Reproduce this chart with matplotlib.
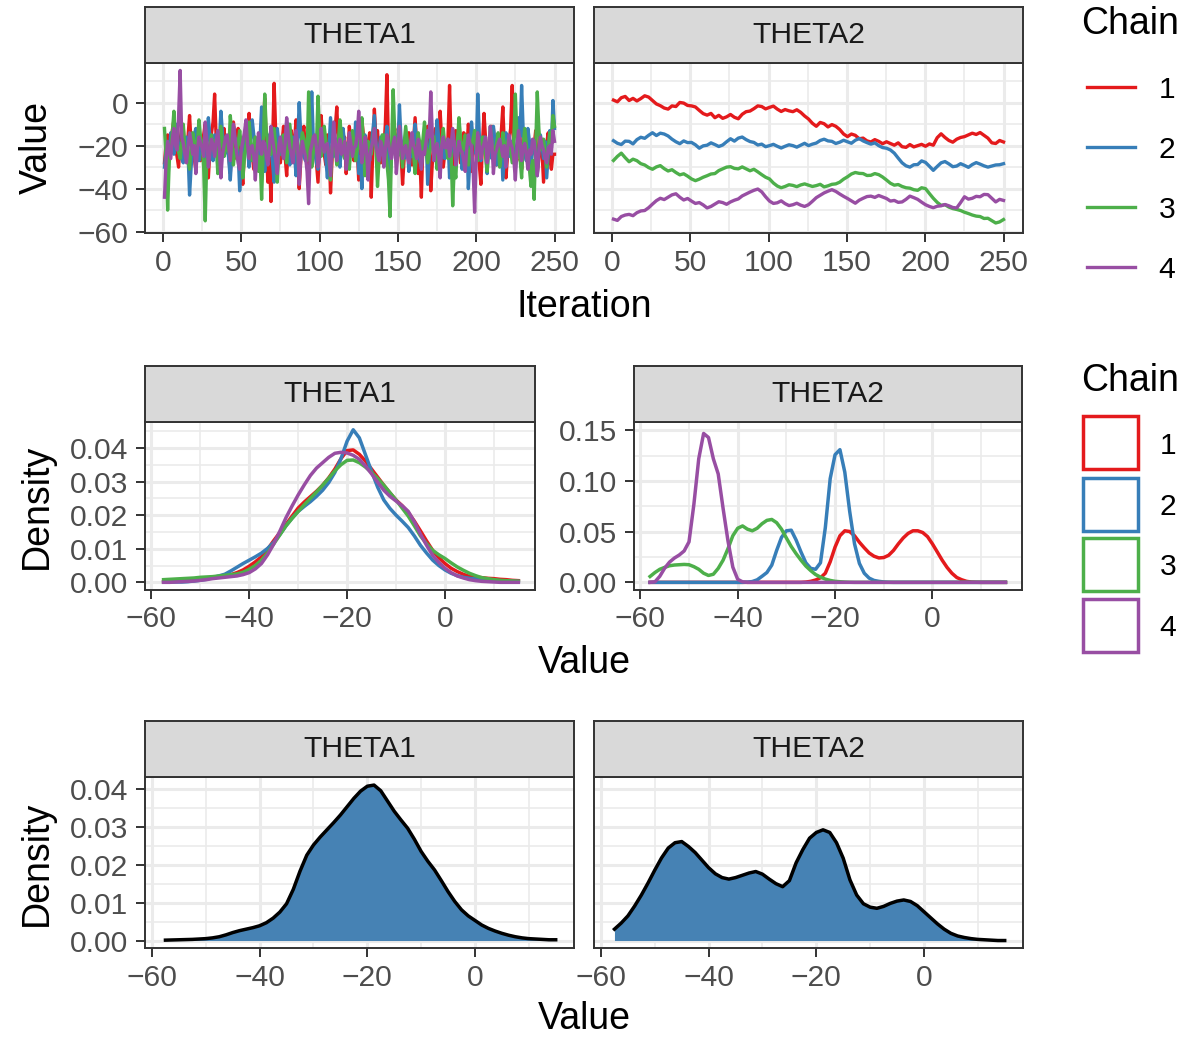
import numpy as np
import matplotlib.pyplot as plt
from matplotlib.lines import Line2D
from matplotlib.patches import Rectangle
from matplotlib.ticker import FormatStrFormatter, MultipleLocator

plt.rcParams['font.family'] = ['Liberation Sans', 'DejaVu Sans']

W, H = 1201, 1037
chains = ['1', '2', '3', '4']
chain_colors = ['#E41A1C', '#377EB8', '#4DAF4A', '#984EA3']
params = ['THETA1', 'THETA2']

# ---- trace data, THETA1 (iterations 1..250) ----
trace1 = {
    '1': [-28, -19, -15, -24, -22, -13, -8, -21, -25, -30, -18, -11, -12, -23, -27, -16, -6, -19, -20, -26,
          -31, -20, -17, -27, -24, -15, -10, -19, -35, -22, -14, -9, 4, -17, -22, -28, -29, -18, -12, -21,
          -19, -25, -33, -20, -9, -16, -26, -12, -21, -29, -38, -23, -14, -18, -5, -20, -24, -31, -30, -17,
          -16, -24, -10, -15, 2, -20, -37, -26, -46, -18, 9, -14, -18, -23, -28, -19, -11, -25, -34, -21,
          -20, -13, -25, -18, -8, -22, -40, -27, -15, -11, -23, -19, -31, -24, -13, -20, -19, -28, -37, -22,
          -6, -17, -24, -29, -15, -20, -42, -26, -17, -12, -2, -19, -27, -23, -21, -16, -33, -25, -11, -18,
          -23, -27, -16, -21, -36, -24, -8, -15, -26, -30, -19, -14, -44, -22, -3, -17, -13, -25, -28, -20,
          -22, -10, 13, -21, -31, -24, -17, -12, -25, -19, -9, -23, -38, -26, -22, -15, -14, -27, -29, -18,
          -7, -20, -33, -25, -44, -19, -24, -13, -11, -22, -41, -28, -16, -12, -21, -26, -4, -18, -30, -23,
          -24, -16, 8, -20, -36, -25, -13, -21, -19, -28, -27, -14, -15, -22, -10, -18, -32, -24, -20, -15,
          -23, -29, -38, -19, -5, -17, -26, -22, -17, -11, -12, -24, -29, -18, -21, -14, -2, -20, -35, -25,
          -18, -12, 8, -19, -25, -27, -9, -16, -31, -21, -22, -14, -14, -25, -28, -19, -20, -13, -33, -26,
          -16, -22, -37, -28, -19, -14, -26, -31, -24, -24],
    '2': [-30, -22, -38, -25, -14, -20, -24, -17, -10, -21, -19, -26, -28, -18, -16, -23, -43, -30, -21, -15,
          -12, -19, -27, -21, -18, -25, -33, -20, -7, -16, -22, -27, -15, -20, -29, -18, -4, -14, -25, -22,
          -20, -26, -36, -24, -11, -18, -17, -23, -41, -27, -23, -16, -13, -21, -30, -19, -8, -15, -19, -26,
          -26, -17, -2, -18, -32, -22, -15, -20, -21, -28, -37, -24, -12, -19, -24, -16, -18, -23, -9, -20,
          -29, -21, -16, -24, -34, -18, 0, -15, -20, -25, -27, -19, -11, -14, 5, -17, -23, -28, -31, -22,
          -14, -20, -19, -26, -35, -21, -7, -16, -25, -18, -17, -24, -30, -20, -12, -19, -22, -26, -28, -17,
          -18, -23, -9, -17, -33, -25, -40, -21, -15, -19, -24, -27, -20, -13, -6, -18, -29, -22, -16, -21,
          -23, -18, -11, -20, -36, -24, -19, -15, -27, -21, -1, -17, -21, -26, -14, -20, -32, -23, -25, -18,
          -10, -19, -20, -27, -30, -22, -17, -14, -38, -25, -12, -18, -24, -20, -8, -16, -28, -23, -19, -26,
          -22, -17, -35, -24, -15, -21, -26, -18, -13, -20, -31, -25, -21, -16, -40, -27, -9, -17, -18, -24,
          4, -15, -27, -21, -16, -23, -33, -19, -20, -26, -11, -18, -29, -22, -23, -17, -36, -25, -14, -20,
          -25, -19, -18, -24, -31, -20, -7, -16, 8, -13, -22, -27, -12, -18, -30, -21, -19, -25, -34, -22,
          -15, -20, -26, -18, -35, -24, -13, -21, 1, -12],
    '3': [-12, -25, -50, -28, -20, -14, -4, -18, -17, -23, -26, -19, -10, -21, -22, -27, -31, -20, -14, -18,
          -24, -19, -8, -16, -19, -30, -55, -26, -28, -20, -15, -22, -21, -17, -33, -24, -11, -18, -25, -21,
          -18, -23, -6, -15, -29, -22, -23, -19, -13, -20, -35, -26, -20, -14, -9, -17, -27, -21, -16, -24,
          -32, -25, -45, -22, 4, -13, -19, -24, -24, -18, -12, -20, -37, -23, -21, -16, -15, -22, -28, -19,
          -10, -18, -26, -21, -18, -24, -33, -20, -14, -17, -22, -27, 5, -12, -30, -23, -17, -20, 3, -14,
          -25, -19, -11, -18, -20, -27, -36, -22, -16, -21, -29, -18, -8, -15, -23, -26, -19, -22, -31, -20,
          -13, -19, -27, -22, -21, -16, -7, -18, -34, -25, -18, -23, -24, -17, -12, -21, -39, -26, -20, -15,
          -15, -21, -28, -36, -53, -20, 6, -14, -22, -25, -17, -21, -30, -19, -11, -18, -25, -22, -19, -24,
          -33, -21, -14, -19, -23, -17, -9, -20, -28, -24, -20, -15, -16, -22, -31, -25, -26, -18, -12, -20,
          -21, -26, -18, -24, -48, -30, -35, -19, -7, -16, -24, -21, -15, -20, -29, -23, -20, -17, -13, -22,
          -27, -19, -22, -16, -17, -25, -32, -21, -11, -18, -25, -22, -19, -14, -30, -24, -14, -20, -23, -18,
          -16, -22, -28, -17, 4, -15, -21, -26, -35, -20, -12, -19, -26, -31, -39, -27, -45, -20, 5, -12,
          -22, -18, -17, -24, -30, -21, -14, -19, -6, -11],
    '4': [-44, -27, -18, -22, -26, -17, -12, -20, -22, -6, 15, -16, -19, -24, -28, -21, -14, -18, -24, -20,
          -33, -22, -16, -19, -21, -25, -9, -17, -30, -23, -17, -20, -25, -18, -13, -21, -35, -24, -20, -16,
          -15, -21, -27, -19, -10, -16, -23, -28, -31, -22, -18, -14, -8, -19, -26, -21, -20, -25, -36, -23,
          -14, -20, -24, -18, -19, -25, -29, -21, -11, -17, -22, -27, -33, -20, -16, -23, -26, -19, -7, -15,
          -21, -24, -28, -19, -13, -20, -38, -26, -18, -22, -25, -32, -47, -23, -20, -16, -15, -21, -30, -24,
          -12, -18, -23, -20, -19, -26, -34, -22, -9, -17, -27, -21, -17, -24, -22, -18, -31, -25, -14, -19,
          -25, -21, -20, -15, -4, -17, -28, -23, -16, -22, -36, -25, -21, -18, -12, -20, -24, -27, -18, -21,
          -30, -22, -15, -19, -23, -26, -19, -16, -33, -24, -11, -18, -26, -21, -20, -25, -28, -19, -14, -20,
          -22, -26, -17, -21, -31, -23, -24, -18, -13, -16, 5, -15, -27, -22, -19, -24, -35, -20, -16, -21,
          -21, -17, -25, -20, -12, -19, -29, -24, -18, -22, -23, -27, -32, -21, -15, -19, -20, -30, -51, -26,
          -14, -20, -26, -21, -19, -16, -28, -23, -11, -18, -33, -24, -22, -19, -17, -21, -25, -20, -30, -23,
          -15, -19, -21, -26, -36, -22, -13, -18, -27, -21, -19, -24, -31, -22, -24, -17, -18, -25, -34, -23,
          -16, -20, -22, -26, -28, -21, -20, -24, -13, -18],
}

# ---- trace data, THETA2 (101 points over iterations 1..250) ----
trace2 = {
    '1': [1.2, 0.4, 2.3, 2.9, 1.0, 2.0, 0.8, 1.9, 3.2, 2.6,
          1.0, -0.6, -1.4, -2.5, -3.0, -1.5, -1.8, 0.1, -0.2, -1.3,
          -1.5, -2.0, -3.6, -5.1, -5.8, -5.0, -7.0, -5.9, -7.3, -6.6,
          -5.5, -6.8, -7.5, -5.4, -4.2, -3.9, -2.8, -1.5, -1.8, -2.9,
          -2.2, -1.6, -3.0, -4.1, -3.2, -3.8, -4.2, -3.3, -4.5, -6.2,
          -7.6, -9.6, -11.0, -9.2, -9.8, -11.3, -10.2, -11.0, -12.5, -14.6,
          -15.8, -14.6, -15.2, -16.8, -16.5, -17.8, -18.3, -17.2, -18.0, -19.1,
          -18.2, -19.0, -19.8, -18.7, -20.5, -20.8, -19.5, -20.6, -20.0, -19.4,
          -20.3, -19.2, -19.8, -16.3, -14.5, -16.2, -17.6, -18.4, -17.0, -16.2,
          -15.8, -15.0, -14.2, -14.8, -13.9, -15.2, -16.5, -18.7, -19.0, -17.6,
          -18.3],
    '2': [-17.7, -18.9, -19.5, -17.9, -18.0, -19.2, -17.2, -16.1, -16.6, -15.2,
          -14.0, -15.3, -14.2, -14.6, -15.5, -17.0, -18.2, -19.1, -17.8, -18.6,
          -18.5, -19.6, -21.2, -20.1, -19.8, -18.7, -19.5, -20.4, -19.7, -18.2,
          -16.8, -17.9, -16.5, -16.0, -17.2, -18.1, -18.5, -19.7, -19.3, -20.5,
          -20.0, -19.4, -20.3, -21.1, -20.3, -19.6, -20.0, -20.7, -19.8, -18.9,
          -20.0, -19.3, -18.8, -17.6, -17.0, -17.8, -18.0, -19.0, -18.4, -17.5,
          -18.2, -18.9, -17.5, -16.7, -17.8, -18.6, -19.3, -18.7, -20.0, -20.9,
          -21.2, -22.0, -23.5, -25.8, -28.0, -29.4, -30.0, -28.9, -28.8, -27.1,
          -27.8, -29.6, -31.5, -29.7, -28.0, -27.4, -28.5, -29.8, -29.5, -28.4,
          -29.2, -30.1, -28.8, -27.9, -28.6, -29.4, -30.0, -29.5, -29.0, -28.9,
          -28.4],
    '3': [-26.9, -25.0, -23.5, -25.6, -27.5, -26.3, -27.0, -28.4, -29.0, -30.2,
          -31.0, -29.9, -29.3, -30.7, -31.8, -31.2, -32.5, -33.6, -33.1, -34.2,
          -35.5, -36.3, -35.6, -34.7, -34.0, -33.2, -33.0, -31.6, -30.8, -30.0,
          -29.8, -30.6, -30.8, -29.9, -30.8, -31.7, -31.0, -32.2, -33.5, -34.7,
          -35.5, -37.4, -38.8, -39.6, -39.0, -38.2, -38.5, -39.1, -38.3, -37.8,
          -38.4, -39.0, -38.6, -38.0, -39.2, -38.7, -38.0, -37.8, -37.0, -35.6,
          -34.5, -33.2, -32.5, -32.9, -33.0, -33.9, -33.8, -33.0, -33.5, -34.6,
          -36.0, -37.5, -38.4, -38.1, -39.0, -39.6, -39.8, -40.5, -40.8, -39.6,
          -40.0, -42.3, -44.5, -46.4, -47.8, -47.5, -48.6, -49.3, -49.7, -50.2,
          -51.0, -51.6, -52.3, -52.8, -53.0, -53.9, -53.8, -54.9, -56.0, -55.5,
          -54.4],
    '4': [-54.2, -54.8, -53.0, -52.3, -52.0, -52.6, -51.2, -50.4, -50.2, -48.9,
          -47.2, -45.6, -44.5, -45.1, -44.0, -42.9, -42.4, -44.0, -45.3, -44.6,
          -45.8, -46.9, -46.5, -47.6, -49.0, -48.3, -47.2, -46.1, -46.5, -47.3,
          -46.2, -45.4, -44.8, -43.4, -42.5, -41.6, -40.8, -40.2, -41.5, -43.8,
          -45.8, -46.9, -46.6, -45.7, -47.0, -47.9, -47.5, -46.8, -47.7, -48.3,
          -47.5, -45.9, -44.2, -43.1, -42.0, -41.2, -40.5, -41.3, -42.5, -43.6,
          -44.6, -45.7, -46.8, -45.4, -44.5, -43.7, -43.5, -44.1, -43.2, -43.9,
          -44.6, -45.8, -45.5, -46.4, -46.2, -45.0, -43.5, -44.2, -45.0, -46.3,
          -47.5, -48.3, -48.9, -48.2, -48.0, -47.4, -48.0, -48.8, -49.0, -46.5,
          -43.8, -44.9, -44.5, -43.6, -43.8, -42.7, -42.8, -44.5, -46.2, -45.0,
          -45.5],
}

# ---- density by chain, THETA1 (x = -57.5 .. 15 in steps of 1.25) ----
dens_x1 = np.arange(-57.5, 15.01, 1.25)
dens1 = {
    '1': [0.0002, 0.00025, 0.0003, 0.0004, 0.0005, 0.0007, 0.0009, 0.0011, 0.0014, 0.0016,
          0.0019, 0.0023, 0.0029, 0.0037, 0.0048, 0.0061, 0.0076, 0.0098, 0.0124, 0.0148,
          0.0172, 0.0197, 0.0221, 0.0239, 0.0255, 0.0271, 0.0289, 0.0311, 0.0337, 0.0368,
          0.0392, 0.0394, 0.0381, 0.0361, 0.0337, 0.0313, 0.0289, 0.0266, 0.0245, 0.0228,
          0.0208, 0.0182, 0.0153, 0.0123, 0.0095, 0.0073, 0.0056, 0.0042, 0.0032, 0.0024,
          0.0018, 0.0015, 0.0014, 0.0012, 0.0011, 0.0009, 0.0008, 0.0006, 0.0005],
    '2': [0.0001, 0.0001, 0.0001, 0.0001, 0.0002, 0.0004, 0.0006, 0.0009, 0.0014, 0.0019,
          0.0024, 0.0034, 0.0045, 0.0056, 0.0066, 0.0076, 0.0087, 0.0101, 0.0119, 0.0142,
          0.0168, 0.0191, 0.0211, 0.0226, 0.0240, 0.0256, 0.0274, 0.0297, 0.0327, 0.0368,
          0.0420, 0.0454, 0.0430, 0.0380, 0.0330, 0.0283, 0.0245, 0.0220, 0.0200, 0.0182,
          0.0163, 0.0138, 0.0110, 0.0087, 0.0066, 0.0050, 0.0037, 0.0027, 0.0020, 0.0015,
          0.0012, 0.0010, 0.0008, 0.0007, 0.0006, 0.0005, 0.0004, 0.0003, 0.0003],
    '3': [0.0008, 0.0009, 0.0010, 0.0011, 0.0012, 0.0013, 0.0015, 0.0016, 0.0017, 0.0019,
          0.0021, 0.0023, 0.0025, 0.0030, 0.0039, 0.0050, 0.0066, 0.0088, 0.0114, 0.0141,
          0.0168, 0.0190, 0.0211, 0.0231, 0.0250, 0.0269, 0.0289, 0.0310, 0.0332, 0.0350,
          0.0363, 0.0364, 0.0356, 0.0343, 0.0327, 0.0309, 0.0289, 0.0267, 0.0245, 0.0221,
          0.0197, 0.0168, 0.0138, 0.0115, 0.0095, 0.0082, 0.0071, 0.0058, 0.0046, 0.0036,
          0.0027, 0.0020, 0.0014, 0.0011, 0.0008, 0.0006, 0.0005, 0.0004, 0.0003],
    '4': [0.0000, 0.0000, 0.0001, 0.0002, 0.0003, 0.0004, 0.0006, 0.0008, 0.0011, 0.0013,
          0.0015, 0.0017, 0.0019, 0.0023, 0.0029, 0.0040, 0.0056, 0.0082, 0.0114, 0.0152,
          0.0192, 0.0227, 0.0260, 0.0290, 0.0318, 0.0340, 0.0356, 0.0372, 0.0384, 0.0387,
          0.0385, 0.0378, 0.0366, 0.0346, 0.0323, 0.0298, 0.0274, 0.0256, 0.0242, 0.0228,
          0.0211, 0.0180, 0.0143, 0.0110, 0.0080, 0.0059, 0.0042, 0.0029, 0.0019, 0.0013,
          0.0008, 0.0005, 0.0003, 0.0002, 0.0001, 0.0000, 0.0000, 0.0000, 0.0000],
}

# ---- density by chain, THETA2 (x = -58 .. 15) ----
dens_x2 = list(range(-58, 16))
dens2 = {
    '1': [0, 0, 0, 0, 0, 0, 0, 0, 0, 0, 0, 0, 0, 0, 0, 0, 0, 0, 0, 0,
          0, 0, 0, 0, 0, 0, 0, 0, 0, 0, 0, 0,
          0.0003, 0.0010, 0.0023, 0.0045, 0.0090, 0.0203, 0.0348, 0.0460, 0.0509, 0.0502,
          0.0460, 0.0396, 0.0341, 0.0290, 0.0258, 0.0241, 0.0245, 0.0267, 0.0315, 0.0380,
          0.0438, 0.0483, 0.0509, 0.0509, 0.0492, 0.0451, 0.0380, 0.0300, 0.0219, 0.0148,
          0.0090, 0.0048, 0.0026, 0.0010, 0.0003, 0.0001,
          0, 0, 0, 0, 0, 0],
    '2': [0, 0, 0, 0, 0, 0, 0, 0, 0, 0, 0, 0, 0, 0, 0, 0, 0, 0, 0, 0,
          0.0002, 0.0008, 0.0025, 0.0060, 0.0097, 0.0170, 0.0315, 0.0444, 0.0509, 0.0515,
          0.0418, 0.0300, 0.0193, 0.0138, 0.0129, 0.0193, 0.0540, 0.1024, 0.1260, 0.1310,
          0.1088, 0.0702, 0.0380, 0.0187, 0.0090, 0.0042, 0.0019, 0.0010, 0.0004, 0.0001,
          0, 0, 0, 0, 0, 0, 0, 0, 0, 0, 0, 0, 0, 0, 0, 0, 0, 0, 0, 0, 0, 0, 0, 0],
    '3': [0.0058, 0.0097, 0.0129, 0.0148, 0.0164, 0.0171, 0.0174, 0.0177, 0.0174, 0.0155,
          0.0129, 0.0090, 0.0068, 0.0080, 0.0138, 0.0219, 0.0332, 0.0460, 0.0534, 0.0557,
          0.0525, 0.0509, 0.0534, 0.0579, 0.0612, 0.0621, 0.0589, 0.0525, 0.0438, 0.0354,
          0.0283, 0.0219, 0.0161, 0.0116, 0.0077, 0.0052, 0.0032, 0.0019, 0.0010, 0.0006,
          0.0003, 0.0001,
          0, 0, 0, 0, 0, 0, 0, 0, 0, 0, 0, 0, 0, 0, 0, 0,
          0, 0, 0, 0, 0, 0, 0, 0, 0, 0, 0, 0, 0, 0, 0, 0],
    '4': [0, 0.0005, 0.0060, 0.0140, 0.0200, 0.0240, 0.0270, 0.0310, 0.0400, 0.0770,
          0.1220, 0.1470, 0.1430, 0.1220, 0.1070, 0.0730, 0.0410, 0.0150, 0.0030, 0.0005,
          0, 0, 0, 0, 0, 0, 0, 0, 0, 0, 0, 0, 0, 0, 0, 0, 0, 0, 0, 0,
          0, 0, 0, 0, 0, 0, 0, 0, 0, 0, 0, 0, 0, 0, 0, 0, 0, 0, 0, 0,
          0, 0, 0, 0, 0, 0, 0, 0, 0, 0, 0, 0, 0, 0],
}

# ---- pooled density (x = -57.5 .. 15 in steps of 1.25) ----
pool_x = np.arange(-57.5, 15.01, 1.25)
pool = {
    'THETA1': [0.0001, 0.00015, 0.0002, 0.00025, 0.0003, 0.0004, 0.0005, 0.0007, 0.0010, 0.0015,
               0.0021, 0.0026, 0.0030, 0.0034, 0.0039, 0.0047, 0.0059, 0.0075, 0.0097, 0.0135,
               0.0183, 0.0225, 0.0252, 0.0273, 0.0292, 0.0311, 0.0331, 0.0353, 0.0375, 0.0394,
               0.0407, 0.0410, 0.0395, 0.0368, 0.0341, 0.0318, 0.0296, 0.0267, 0.0235, 0.0209,
               0.0186, 0.0158, 0.0129, 0.0103, 0.0081, 0.0065, 0.0053, 0.0041, 0.0032, 0.0025,
               0.0019, 0.0014, 0.0010, 0.0007, 0.0005, 0.0004, 0.0003, 0.0002, 0.0002],
    'THETA2': [0.0030, 0.0046, 0.0065, 0.0091, 0.0120, 0.0152, 0.0186, 0.0218, 0.0244, 0.0258,
               0.0261, 0.0248, 0.0232, 0.0212, 0.0192, 0.0176, 0.0166, 0.0162, 0.0166, 0.0172,
               0.0178, 0.0182, 0.0175, 0.0162, 0.0150, 0.0142, 0.0158, 0.0205, 0.0240, 0.0270,
               0.0285, 0.0292, 0.0285, 0.0258, 0.0217, 0.0160, 0.0120, 0.0097, 0.0088, 0.0085,
               0.0090, 0.0098, 0.0104, 0.0107, 0.0103, 0.0092, 0.0076, 0.0060, 0.0044, 0.0030,
               0.0019, 0.0012, 0.0008, 0.0005, 0.0003, 0.0002, 0.0001, 0.0000, 0.0000],
}

# ---- figure ----
fig = plt.figure(figsize=(W / 100, H / 100), dpi=100)
STRIP_H = 56
GRID = '#EBEBEB'
DARK = '#333333'
LW_TRACE = 2.4
LW_DENS = 2.5


def rect(x0, y0, x1, y1):
    return [x0 / W, 1 - y1 / H, (x1 - x0) / W, (y1 - y0) / H]


def make_panel(box, label, xlim, ylim, xstep, ystep, show_y, yfmt=None):
    x0, y0, x1, y1 = box
    ax = fig.add_axes(rect(x0, y0, x1, y1))
    sax = fig.add_axes(rect(x0, y0 - STRIP_H, x1, y0))
    sax.set_facecolor('#D9D9D9')
    sax.set_xticks([])
    sax.set_yticks([])
    for s in sax.spines.values():
        s.set_color(DARK)
        s.set_linewidth(1.4)
    sax.text(0.5, 0.5, label, transform=sax.transAxes, ha='center', va='center',
             fontsize=21.6, color='#1A1A1A')

    ax.set_xlim(*xlim)
    ax.set_ylim(*ylim)
    ax.xaxis.set_major_locator(MultipleLocator(xstep))
    ax.xaxis.set_minor_locator(MultipleLocator(xstep / 2))
    ax.yaxis.set_major_locator(MultipleLocator(ystep))
    ax.yaxis.set_minor_locator(MultipleLocator(ystep / 2))
    ax.grid(which='major', color=GRID, lw=2.2)
    ax.grid(which='minor', color=GRID, lw=1.2)
    ax.set_axisbelow(True)
    for s in ax.spines.values():
        s.set_color(DARK)
        s.set_linewidth(1.4)
    ax.tick_params(which='minor', length=0)
    ax.tick_params(which='major', length=6.5, width=1.4, color=DARK,
                   labelsize=21.6, labelcolor='#4D4D4D')
    ax.tick_params(axis='x', pad=4.5)
    ax.tick_params(axis='y', pad=5.5)
    if yfmt:
        ax.yaxis.set_major_formatter(FormatStrFormatter(yfmt))
    if not show_y:
        ax.tick_params(axis='y', which='both', left=False, labelleft=False)
    return ax


# row 1: traces
r1 = [(145, 62.7, 574, 233.3), (594, 62.7, 1023, 233.3)]
ylim1 = (-60.8, 18.6)
ax = make_panel(r1[0], 'THETA1', (-11.45, 262.45), ylim1, 50, 20, True)
for c, col in zip(chains, chain_colors):
    vals = trace1[c]
    ax.plot(np.linspace(1, 250, len(vals)), vals, color=col, lw=LW_TRACE)
ax = make_panel(r1[1], 'THETA2', (-11.45, 262.45), ylim1, 50, 20, False)
for c, col in zip(chains, chain_colors):
    vals = trace2[c]
    ax.plot(np.linspace(1, 250, len(vals)), vals, color=col, lw=LW_TRACE)

# row 2: density by chain
xl = (-61.3, 18.4)
ax = make_panel((145, 421.7, 535, 590), 'THETA1', xl, (-0.00228, 0.0478), 20, 0.01, True, '%.2f')
for c, col in zip(chains, chain_colors):
    ax.plot(dens_x1, dens1[c], color=col, lw=LW_DENS)
ax = make_panel((634, 421.7, 1022, 590), 'THETA2', xl, (-0.00755, 0.1586), 20, 0.05, True, '%.2f')
for c, col in zip(chains, chain_colors):
    ax.plot(dens_x2, dens2[c], color=col, lw=LW_DENS)

# row 3: pooled density
r3 = [(145, 777.3, 574, 948.3), (594, 777.3, 1023, 948.3)]
for i, p in enumerate(params):
    ax = make_panel(r3[i], p, xl, (-0.00205, 0.04305), 20, 0.01, i == 0, '%.2f')
    ax.fill_between(pool_x, 0, pool[p], color='#4682B4', lw=0)
    ax.plot(pool_x, pool[p], color='black', lw=LW_DENS)


# ---- axis titles ----
def ftext(x, y, s, **kw):
    fig.text(x / W, 1 - y / H, s, fontsize=27, color='black', **kw)


ftext(584, 317, 'Iteration', ha='center', va='baseline')
ftext(584, 673, 'Value', ha='center', va='baseline')
ftext(584, 1029, 'Value', ha='center', va='baseline')
ftext(47, 148, 'Value', ha='center', va='baseline', rotation=90, rotation_mode='anchor')
ftext(47, 506, 'Density', ha='center', va='baseline', rotation=90, rotation_mode='anchor')
ftext(47, 863, 'Density', ha='center', va='baseline', rotation=90, rotation_mode='anchor')

# ---- legends ----
fig.text(1081 / W, 1 - 34 / H, 'Chain', fontsize=27, ha='left', va='baseline')
key_y1 = [87.3, 146.7, 207.3, 267.3]
for c, col, ky in zip(chains, chain_colors, key_y1):
    fig.add_artist(Line2D([1087 / W, 1135 / W], [1 - ky / H, 1 - ky / H],
                          transform=fig.transFigure, color=col, lw=LW_TRACE))
    fig.text(1167 / W, 1 - (ky + 10.8) / H, c, fontsize=21.6, ha='center', va='baseline')

fig.text(1081 / W, 1 - 391 / H, 'Chain', fontsize=27, ha='left', va='baseline')
key_y2 = [442.7, 504.2, 564.5, 625.0]
for c, col, ky in zip(chains, chain_colors, key_y2):
    fig.add_artist(Rectangle((1083 / W, 1 - (ky + 26.5) / H), 55 / W, 53 / H,
                             transform=fig.transFigure, fill=False, edgecolor=col, lw=LW_DENS))
    fig.text(1168 / W, 1 - (ky + 10.8) / H, c, fontsize=21.6, ha='center', va='baseline')

fig.savefig('out.png', dpi=100)
